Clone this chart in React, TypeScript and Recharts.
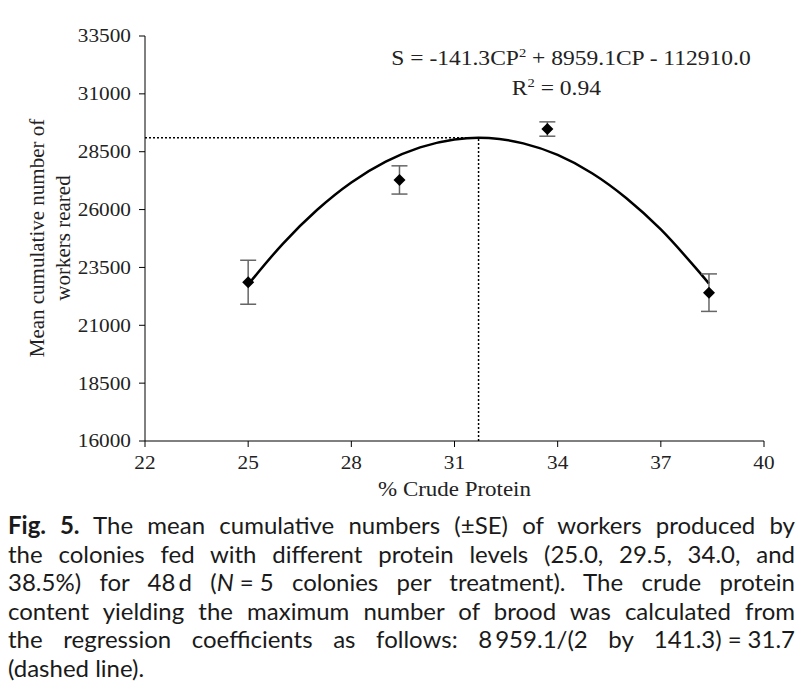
import React from "react";
import { ComposedChart, Line, Scatter, ErrorBar, XAxis, YAxis, ReferenceLine } from "recharts";

// fitted curve
const curveX = [25, 26, 27, 28, 29, 30, 31, 31.7, 32, 33, 34, 35, 36, 37, 38, 38.4];
const curveY = [22760, 24510, 25980, 27170, 28070, 28690, 29030, 29105, 29090, 28860, 28360, 27570, 26490, 25140, 23500, 22800];

// observed means (+- SE)
const protein = [25, 29.4, 33.7, 38.4];
const workers = [22860, 27280, 29480, 22410];
const se = [950, 610, 310, 810];

const xTicks = [22, 25, 28, 31, 34, 37, 40];
const yTicks = [16000, 18500, 21000, 23500, 26000, 28500, 31000, 33500];

const peakX = 31.7;
const peakY = 29105;

const curveData = curveX.map((x, i) => ({ x, fit: curveY[i] }));
const pointData = protein.map((x, i) => ({ x, y: workers[i], err: se[i] }));

const serif = "'Liberation Serif', 'Times New Roman', serif";
const stretch = 1.12;

const Diamond = (props: any) => {
  const { cx, cy } = props;
  const r = 6;
  return <polygon points={`${cx},${cy - r} ${cx + r},${cy} ${cx},${cy + r} ${cx - r},${cy}`} fill="#000" />;
};

// the figure's serif text is a bit wider than it is tall
const XTick = (props: any) => {
  const { x, y, payload } = props;
  return (
    <text
      transform={`translate(${x},${y}) scale(${stretch},1)`}
      textAnchor="middle"
      dy="0.75em"
      fontFamily={serif}
      fontSize={19}
      fill="#222"
    >
      {payload.value}
    </text>
  );
};

const YTick = (props: any) => {
  const { x, y, payload } = props;
  return (
    <text
      transform={`translate(${x},${y}) scale(${stretch},1)`}
      textAnchor="end"
      dy="0.34em"
      fontFamily={serif}
      fontSize={19}
      fill="#222"
    >
      {payload.value}
    </text>
  );
};

const XTitle = (props: any) => {
  const { viewBox } = props;
  const cx = viewBox.x + viewBox.width / 2;
  return (
    <text
      transform={`translate(${cx},${viewBox.y + 55}) scale(${stretch},1)`}
      textAnchor="middle"
      fontFamily={serif}
      fontSize={20.5}
      fill="#222"
    >
      % Crude Protein
    </text>
  );
};

const captionLine = (last = false) => ({
  textAlign: "justify" as const,
  textAlignLast: (last ? "left" : "justify") as any,
  whiteSpace: "nowrap" as const,
});

const App = () => {
  return (
    <div style={{ position: "absolute", left: 0, top: 0, width: 802, height: 687, background: "#fff" }}>
      <ComposedChart
        width={802}
        height={500}
        data={curveData}
        margin={{ top: 36, right: 38, bottom: 19, left: 80 }}
      >
        <XAxis
          dataKey="x"
          type="number"
          domain={[22, 40]}
          ticks={xTicks}
          allowDataOverflow
          stroke="#000"
          tickSize={6}
          tickMargin={8}
          tick={<XTick />}
          height={40}
          label={<XTitle />}
        />
        <YAxis
          type="number"
          domain={[16000, 33500]}
          ticks={yTicks}
          allowDataOverflow
          stroke="#000"
          tickSize={6}
          tickMargin={8}
          tick={<YTick />}
          width={65}
        />
        <ReferenceLine
          segment={[{ x: 22, y: peakY }, { x: peakX, y: peakY }]}
          stroke="#000"
          strokeDasharray="2 2"
          strokeWidth={1.5}
        />
        <ReferenceLine
          segment={[{ x: peakX, y: 16000 }, { x: peakX, y: peakY }]}
          stroke="#000"
          strokeDasharray="2 2"
          strokeWidth={1.5}
        />
        <Line
          dataKey="fit"
          type="monotone"
          stroke="#000"
          strokeWidth={2.5}
          dot={false}
          activeDot={false}
          isAnimationActive={false}
        />
        <Scatter data={pointData} dataKey="y" shape={<Diamond />} isAnimationActive={false}>
          <ErrorBar dataKey="err" direction="y" width={8} stroke="#666" strokeWidth={1.5} />
        </Scatter>
      </ComposedChart>

      <div
        style={{
          position: "absolute",
          left: 371,
          top: 43,
          width: 400,
          textAlign: "center",
          fontFamily: serif,
          fontSize: 21,
          color: "#222",
          lineHeight: "30px",
          transform: `scaleX(${stretch})`,
        }}
      >
        <div>
          S = -141.3CP<sup style={{ fontSize: 13, lineHeight: 0 }}>2</sup> + 8959.1CP - 112910.0
        </div>
        <div style={{ marginLeft: -26 }}>
          R<sup style={{ fontSize: 13, lineHeight: 0 }}>2</sup> = 0.94
        </div>
      </div>

      <div
        style={{
          position: "absolute",
          left: 50,
          top: 238,
          width: 300,
          transform: "translate(-50%, -50%) rotate(-90deg)",
          textAlign: "center",
          fontFamily: serif,
          fontSize: 21,
          color: "#222",
          lineHeight: "26px",
        }}
      >
        <div>Mean cumulative number of</div>
        <div>workers reared</div>
      </div>

      <div
        style={{
          position: "absolute",
          left: 8,
          top: 511,
          width: 787,
          fontFamily: "Lato, 'Open Sans', sans-serif",
          fontSize: 24,
          lineHeight: "28.5px",
          color: "#1a1a1a",
        }}
      >
        <div style={captionLine()}>
          <b>Fig. 5.</b> The mean cumulative numbers ({"\u00b1"}SE) of workers produced by
        </div>
        <div style={captionLine()}>the colonies fed with different protein levels (25.0, 29.5, 34.0, and</div>
        <div style={captionLine()}>
          38.5%) for 48{"\u2009"}d (<i>N</i>{"\u2005=\u2005"}5 colonies per treatment). The crude protein
        </div>
        <div style={captionLine()}>content yielding the maximum number of brood was calculated from</div>
        <div style={captionLine()}>
          the regression coefficients as follows: 8{"\u2009"}959.1/(2 by 141.3){"\u2005=\u2005"}31.7
        </div>
        <div style={captionLine(true)}>(dashed line).</div>
      </div>
    </div>
  );
};

export default App;
